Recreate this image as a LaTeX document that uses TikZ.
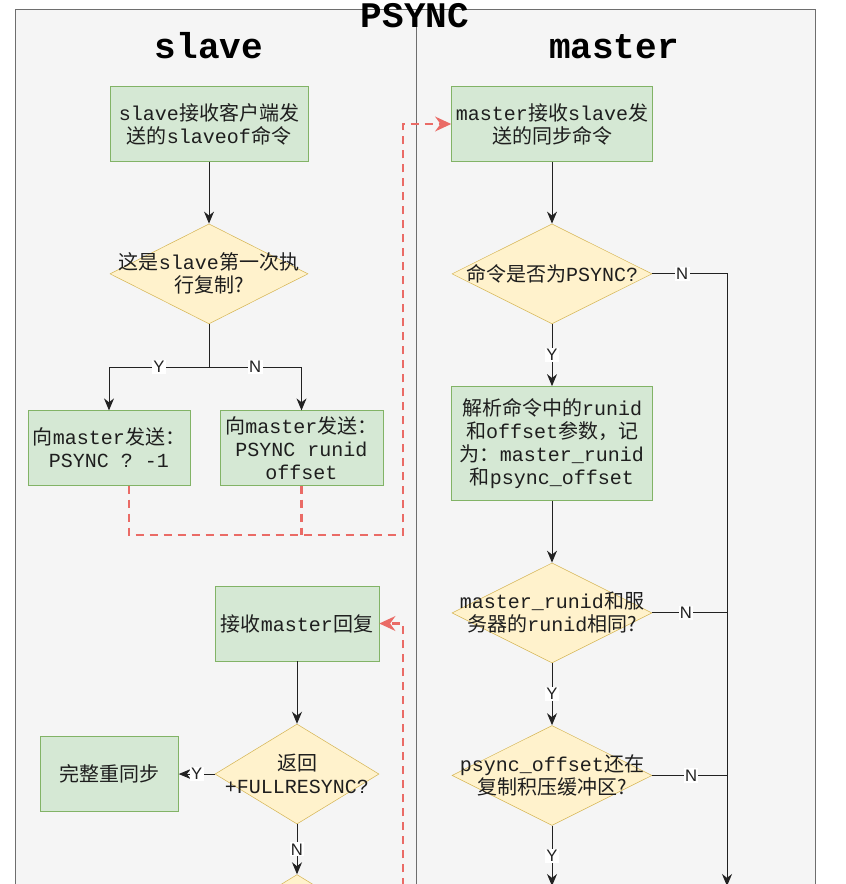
\documentclass[tikz,border=0pt]{standalone}
\usepackage{fontspec}
\setmainfont{Liberation Sans}
\setmonofont{Liberation Mono}
\newfontfamily\cjk{Noto Sans CJK SC}
\newcommand\zh[1]{{\cjk #1}}
\usetikzlibrary{shapes.geometric,arrows.meta,positioning,calc}
\definecolor{gfill}{HTML}{D5E8D4}
\definecolor{gdraw}{HTML}{82B366}
\definecolor{yfill}{HTML}{FFF2CC}
\definecolor{ydraw}{HTML}{D6B656}
\definecolor{poolfill}{HTML}{F5F5F5}
\definecolor{pooldraw}{HTML}{6E6E6E}
\definecolor{redln}{HTML}{EA6B66}
\definecolor{txtclr}{HTML}{1E1E1E}
\definecolor{lnclr}{HTML}{222222}
\tikzset{
  %% green process box
  gblk/.style={rectangle,draw=gdraw,fill=gfill,minimum width=#1,
    minimum height=56pt,inner sep=0pt,align=center,text=txtclr,
    font=\ttfamily\fontsize{15}{17.25}\selectfont},
  gblk/.default=150pt,
  %% yellow decision diamond (text goes in as centre label)
  dia/.style={diamond,draw=ydraw,fill=yfill,minimum width=#1,
    minimum height=75pt,inner sep=0pt},
  dia/.default=150pt,
  dtxt/.style={align=center,text=txtclr,inner sep=0pt,
    font=\ttfamily\fontsize{15}{17.25}\selectfont},
  %% pool and lane titles
  ttl/.style={font=\ttfamily\bfseries\fontsize{27}{30}\selectfont,
    text=black,inner sep=0pt,anchor=base},
  %% arrows
  arr/.style={-{Stealth[length=9pt,width=7.5pt]},draw=lnclr,line width=0.75pt},
  ln/.style={draw=lnclr,line width=0.75pt},
  rarr/.style={-{Stealth[length=12pt,width=11pt]},draw=redln,line width=2pt,
    dash pattern=on 6pt off 4.5pt},
  rln/.style={draw=redln,line width=2pt,dash pattern=on 6pt off 4.5pt},
  yn/.style={font=\fontsize{12.5}{13}\selectfont,text=lnclr,fill=white,
    inner sep=1pt},
}

\begin{document}
\begin{tikzpicture}[x=0.75pt,y=-0.75pt,node distance=46.5pt and 27pt]
  \useasboundingbox (0,0) rectangle (845,884);
  \clip (0,0) rectangle (845,884);

  %% pool with two lanes
  \path[draw=pooldraw,fill=poolfill,line width=0.75pt]
    (15,10) rectangle (416,960) (416,10) rectangle (815,960);
  \node[ttl] (pool)  at (415,28) {PSYNC};
  \node[ttl] (slave) at (209,59) {slave};
  \node[ttl] (mast)  at (614,59) {master};

  %% slave lane, upper part
  \node[gblk=148.5pt] (s1) at (209,124)
    {slave\zh{接收客户端发}\\\zh{送的}slaveof\zh{命令}};
  \node[dia=148.5pt,below=of s1,
    label={[dtxt]center:{\zh{这是}slave\zh{第一次执}\\\zh{行复制?}}}] (d1) {};
  \coordinate (br) at (209,367);
  \node[gblk=121.5pt] (s2) at (109,448)
    {\zh{向}master\zh{发送：}\\PSYNC ? -1};
  \node[gblk=122pt] (s3) at (301.5,448)
    {\zh{向}master\zh{发送：}\\PSYNC runid\\offset};

  %% master lane
  \node[gblk=150.75pt] (m1) at (552,124)
    {master\zh{接收}slave\zh{发}\\\zh{送的同步命令}};
  \node[dia,below=of m1,
    label={[dtxt]center:{\zh{命令是否为}PSYNC?}}] (md1) {};
  \node[gblk=150.75pt,minimum height=85.5pt,below=of md1] (m2)
    {\zh{解析命令中的}runid\\\zh{和}offset\zh{参数，记}\\\zh{为：}master\_runid\\\zh{和}psync\_offset};
  \node[dia,below=of m2,
    label={[dtxt]center:{master\_runid\zh{和服}\\\zh{务器的}runid\zh{相同?}}}] (md2) {};
  \node[dia,below=of md2,
    label={[dtxt]center:{psync\_offset\zh{还在}\\\zh{复制积压缓冲区?}}}] (md3) {};
  \coordinate (mbot) at (552,886);
  \coordinate (nbot) at (727,886);

  %% slave lane, lower part
  \node[gblk=123pt] (s4) at (297,623.5) {\zh{接收}master\zh{回复}};
  \node[dia=123pt,below=47pt of s4,
    label={[dtxt]center:{\zh{返回}\\+FULLRESYNC?}}] (sd1) {};
  \node[gblk=104pt,left=of sd1] (s5) {\zh{完整重同步}};
  \node[dia=123pt,below=37.5pt of sd1] (sd2) {};
  \coordinate (rin) at (403,900);

  %% bus for the red request line
  \coordinate (bus) at (403,535);

  %% ── arrows ──────────────────────────────────────────────
  \draw[arr] (s1) -- (d1);
  \draw[arr] (d1.south) -- (br) -| node[yn,pos=0.25]{Y} (s2.north);
  \draw[arr] (br) -| node[yn,pos=0.25]{N} (s3.north);

  %% slave -> master request
  \draw[rarr] ([xshift=15pt]s2.south) |- (bus) |- (m1.west);
  \draw[rln] (s3.south) -- (s3.south |- bus);

  %% master checks
  \draw[arr] (m1) -- (md1);
  \draw[arr] (md1) -- node[yn]{Y} (m2);
  \draw[arr] (m2) -- (md2);
  \draw[arr] (md2) -- node[yn]{Y} (md3);
  \draw[arr] (md3) -- node[yn]{Y} (mbot);
  \draw[arr] (md1.east) -| node[yn,pos=0.2]{N} (nbot);
  \draw[ln] (md2.east) -- node[yn,pos=0.45]{N} (md2.east -| nbot);
  \draw[ln] (md3.east) -- node[yn,pos=0.52]{N} (md3.east -| nbot);

  %% master reply back to slave
  \draw[rarr] (rin) |- (s4.east);
  \draw[arr] (s4) -- (sd1);
  \draw[arr] (sd1) -- node[yn]{Y} (s5);
  \draw[arr] (sd1) -- node[yn]{N} (sd2);

\end{tikzpicture}
\end{document}
